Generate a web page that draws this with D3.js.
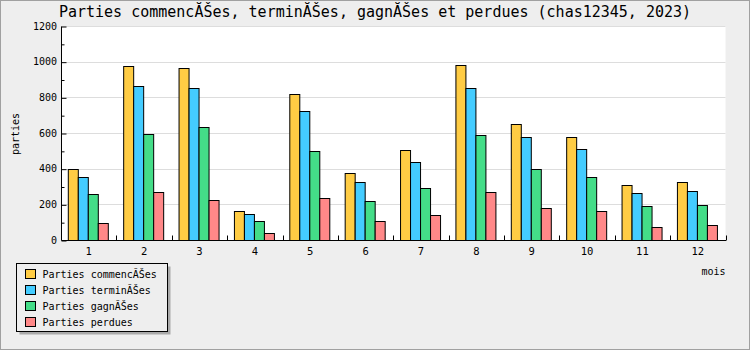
<!DOCTYPE html>
<html>
<head>
<meta charset="utf-8">
<script src="https://cdn.jsdelivr.net/npm/d3@7"></script>
<style>
  html, body { margin: 0; padding: 0; background: #eeeeee; }
  svg { display: block; font-family: "DejaVu Sans Mono", monospace; }
</style>
</head>
<body>
<svg id="chart" width="750" height="350"></svg>
<script>
/** Parties par mois — grouped bars */
const TITLE = 'Parties commencĂŠes, terminĂŠes, gagnĂŠes et perdues (chas12345, 2023)';
const months = ['1', '2', '3', '4', '5', '6', '7', '8', '9', '10', '11', '12'];
const seriesNames = ['Parties commencĂŠes', 'Parties terminĂŠes', 'Parties gagnĂŠes', 'Parties perdues'];
const seriesColors = ['#ffcc44', '#44ccff', '#44dd88', '#ff8888'];
const commencees = [396, 978, 967, 161, 816, 373, 502, 984, 653, 575, 306, 323];
const terminees = [351, 861, 855, 144, 726, 323, 435, 855, 575, 508, 261, 273];
const gagnees = [256, 592, 633, 105, 497, 217, 289, 586, 396, 351, 189, 194];
const perdues = [93, 269, 222, 37, 233, 105, 138, 267, 177, 161, 71, 82];
const yTicks = [0, 200, 400, 600, 800, 1000, 1200];
const yMinorTicks = [100, 300, 500, 700, 900, 1100];

const seriesValues = [commencees, terminees, gagnees, perdues];

const W = 750;
const H = 350;
const plot = { left: 61, right: 725.5, top: 26, bottom: 240 };

const svg = d3.select('#chart');

// frame
svg.append('rect')
  .attr('x', 0.5).attr('y', 0.5)
  .attr('width', W - 1).attr('height', H - 1)
  .attr('fill', '#eeeeee')
  .attr('stroke', '#a0a0a0');

const x0 = d3.scaleBand().domain(months).range([plot.left, plot.right]).padding(0);
const x1 = d3.scaleBand().domain(seriesNames).range([0, 40]).padding(0);
const y = d3.scaleLinear().domain([0, 1200]).range([plot.bottom, plot.top]);

svg.append('rect')
  .attr('x', plot.left).attr('y', plot.top)
  .attr('width', plot.right - plot.left).attr('height', plot.bottom - plot.top)
  .attr('fill', '#ffffff');

// grid
svg.append('g').selectAll('line')
  .data(yTicks.filter((t) => t > 0))
  .join('line')
  .attr('x1', plot.left).attr('x2', plot.right)
  .attr('y1', (d) => Math.round(y(d)) + 0.5)
  .attr('y2', (d) => Math.round(y(d)) + 0.5)
  .attr('stroke', '#dddddd');

// bars
const groupOffset = 6.8;
const groups = svg.append('g').selectAll('g')
  .data(months)
  .join('g')
  .attr('transform', (d) => `translate(${x0(d) + groupOffset},0)`);

groups.selectAll('rect')
  .data((m, i) => seriesNames.map((s, k) => ({ s, k, v: seriesValues[k][i] })))
  .join('rect')
  .attr('x', (d) => Math.round(x1(d.s)) + 0.5)
  .attr('y', (d) => Math.round(y(d.v)) + 0.5)
  .attr('width', x1.bandwidth())
  .attr('height', (d) => Math.round(y(0)) - Math.round(y(d.v)))
  .attr('fill', (d) => seriesColors[d.k])
  .attr('stroke', '#000')
  .attr('stroke-width', 1);

// y axis, ticks pointing into the plot
const yAxis = svg.append('g')
  .attr('transform', `translate(${plot.left + 0.5},0.5)`)
  .call(d3.axisRight(y).tickValues(yTicks).tickSize(5).tickFormat(''));
yAxis.select('.domain').attr('d', `M0,${y(1200)}V${y(0)}`);
yAxis.selectAll('line').attr('stroke', '#000');
svg.append('g')
  .attr('transform', `translate(${plot.left + 0.5},0.5)`)
  .call(d3.axisRight(y).tickValues(yMinorTicks).tickSize(3).tickFormat(''))
  .call((g) => g.select('.domain').remove());

svg.append('g').selectAll('text')
  .data(yTicks)
  .join('text')
  .attr('x', plot.left - 4)
  .attr('y', (d) => y(d) + 3.5)
  .attr('text-anchor', 'end')
  .attr('font-size', 10)
  .text((d) => d);

// x axis, ticks on category boundaries
const xAxis = svg.append('g')
  .attr('transform', `translate(0.5,${Math.round(plot.bottom) + 0.5})`);
xAxis.append('line')
  .attr('x1', plot.left).attr('x2', plot.right)
  .attr('stroke', '#000');
xAxis.selectAll('line.tick')
  .data(months)
  .join('line')
  .attr('class', 'tick')
  .attr('x1', (d) => Math.round(x0(d) + x0.bandwidth()))
  .attr('x2', (d) => Math.round(x0(d) + x0.bandwidth()))
  .attr('y1', 0).attr('y2', -5)
  .attr('stroke', '#000');

svg.append('g').selectAll('text')
  .data(months)
  .join('text')
  .attr('x', (d) => x0(d) + x0.bandwidth() / 2)
  .attr('y', 255)
  .attr('text-anchor', 'middle')
  .attr('font-size', 10.5)
  .text((d) => d);

// labels
svg.append('text')
  .attr('x', W / 2).attr('y', 17)
  .attr('text-anchor', 'middle')
  .attr('font-size', 15)
  .text(TITLE);

svg.append('text')
  .attr('transform', 'translate(19,134) rotate(-90)')
  .attr('text-anchor', 'middle')
  .attr('font-size', 10)
  .text('parties');

svg.append('text')
  .attr('x', plot.right).attr('y', 275)
  .attr('text-anchor', 'end')
  .attr('font-size', 10)
  .text('mois');

// legend
const legend = svg.append('g').attr('transform', 'translate(16.5,263.5)');
legend.append('rect')
  .attr('x', 3).attr('y', 3)
  .attr('width', 151).attr('height', 68)
  .attr('fill', '#aaaaaa');
legend.append('rect')
  .attr('width', 151).attr('height', 68)
  .attr('fill', '#eeeeee')
  .attr('stroke', '#000');
const items = legend.selectAll('g.item')
  .data(seriesNames)
  .join('g')
  .attr('class', 'item')
  .attr('transform', (d, i) => `translate(9,${6 + i * 16})`);
items.append('rect')
  .attr('width', 10).attr('height', 9)
  .attr('fill', (d, i) => seriesColors[i])
  .attr('stroke', '#000');
items.append('text')
  .attr('x', 17).attr('y', 8.5)
  .attr('font-size', 10)
  .text((d) => d);
</script>
</body>
</html>
